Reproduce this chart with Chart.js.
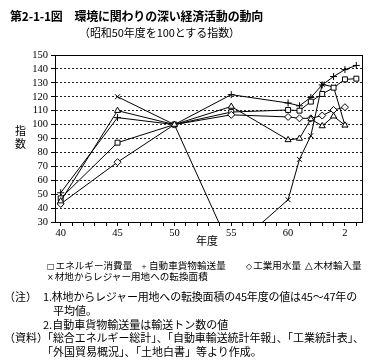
<!DOCTYPE html>
<html>
<head>
<meta charset="utf-8">
<script src="https://cdn.jsdelivr.net/npm/chart.js@4.4.1/dist/chart.umd.min.js"></script>
<style>
  body { margin: 0; width: 370px; height: 362px; position: relative; background: #fff; color: #000;
         font-family: "Noto Sans CJK JP", sans-serif; overflow: hidden; }
  #chart { position: absolute; left: 0; top: 0; }
  .t { position: absolute; white-space: nowrap; line-height: 1; }
  .lg { font-size: 9.6px; top: 261px; }
  .sym { font-size: 8px; font-family: "DejaVu Sans", sans-serif; margin-right: 1px; }
</style>
</head>
<body>
<canvas id="chart" width="370" height="250"></canvas>

<div class="t" style="left:10px;top:10px;font-size:12px;font-weight:bold" data-w="253">第2-1-1図　環境に関わりの深い経済活動の動向</div>
<div class="t" style="left:79px;top:27px;font-size:11px" data-w="161">（昭和50年度を100とする指数）</div>

<div class="t" style="left:15px;top:124px;font-size:11px;line-height:13px">指<br>数</div>
<div class="t" style="left:196px;top:235px;font-size:11px">年度</div>

<div class="t lg" style="left:47px"><span class="sym">□</span>エネルギー消費量</div>
<div class="t lg" style="left:140px"><span class="sym">＋</span>自動車貨物輸送量</div>
<div class="t lg" style="left:246px"><span class="sym">◇</span>工業用水量</div>
<div class="t lg" style="left:305px"><span class="sym" style="font-size:10px">△</span>木材輸入量</div>
<div class="t lg" style="left:47px;top:272px"><span class="sym">×</span>材地からレジャー用地への転換面積</div>

<div class="t" style="left:4px;top:291px;font-size:11px">（注）</div>
<div class="t" style="left:43px;top:291px;font-size:11px" data-w="314">1.林地からレジャー用地への転換面積の45年度の値は45～47年の</div>
<div class="t" style="left:53px;top:305px;font-size:11px">平均値。</div>
<div class="t" style="left:43px;top:319px;font-size:11px">2.自動車貨物輸送量は輸送トン数の値</div>
<div class="t" style="left:4px;top:332px;font-size:11px">（資料）</div>
<div class="t" style="left:42px;top:332px;font-size:11px" data-w="322">「総合エネルギー総計」、「自動車輸送統計年報」、「工業統計表」、</div>
<div class="t" style="left:42px;top:346px;font-size:11px">「外国貿易概況」、「土地白書」等より作成。</div>

<script>
// fiscal years (Showa; 64 = Heisei 1, 65 = Heisei 2)
const years = [40, 45, 50, 55, 60, 61, 62, 63, 64, 65, 66];

// index values, Showa 50 = 100
const energyUse       = [47, 87, 100, 109, 110.5, 110, 116.5, 122, 126.5, 132.5, 133];
const truckFreight    = [51, 105, 100, 121.5, 115.5, 113.5, 119.5, 128.5, 134.5, 139.5, 142.5];
const industrialWater = [43, 73, 100, 107, 105.5, 104.5, 104.5, 106.5, 110.5, 112.5, null];
const timberImports   = [45, 110, 100, 113, 89, 90, 104, 99, 106, 99.5, null];
const leisureLand     = [null, 120, 100, 10, 46, 75, 92, 129, 127, 99.5, null];

const tickYears = [40, 41, 42, 43, 44, 45, 46, 47, 48, 49, 50, 51, 52, 53, 54, 55, 56, 57, 58, 59, 60, 61, 62, 63, 64, 65, 66];
const xTickLabels = { 40: "40", 45: "45", 50: "50", 55: "55", 60: "60", 65: "2" };

// stretch a few text lines to the width they have in the picture
document.querySelectorAll("[data-w]").forEach(el => {
    const diff = +el.dataset.w - el.getBoundingClientRect().width;
    el.style.letterSpacing = (diff / el.textContent.length) + "px";
});

function series(values, pointStyle) {
    return {
        data: years.map((x, i) => ({ x: x, y: values[i] })),
        pointStyle: pointStyle,
        borderColor: "#000",
        borderWidth: 1,
        pointRadius: 3.5,
        pointBorderWidth: 1,
        pointBorderColor: "#000",
        pointBackgroundColor: "#fff",
        tension: 0,
        fill: false
    };
}

const frame = {
    id: "frame",
    afterDatasetsDraw(chart) {
        const { ctx, chartArea: a } = chart;
        ctx.save();
        ctx.strokeStyle = "#000";
        ctx.lineWidth = 1;
        ctx.strokeRect(a.left + 0.5, a.top + 0.5, a.right - a.left, a.bottom - a.top);
        ctx.restore();
    }
};

const tickFont = { family: "'Liberation Serif', serif", size: 10.5 };

new Chart(document.getElementById("chart"), {
    type: "line",
    data: {
        datasets: [
            series(timberImports, "triangle"),
            series(industrialWater, "rectRot"),
            series(energyUse, "rect"),
            series(leisureLand, "crossRot"),
            series(truckFreight, "cross")
        ]
    },
    options: {
        responsive: false,
        animation: false,
        devicePixelRatio: 1,
        layout: { padding: { left: 0, top: 55, right: 8, bottom: 0 } },
        plugins: { legend: { display: false }, tooltip: { enabled: false } },
        scales: {
            x: {
                type: "linear",
                min: 39.5,
                max: 66.5,
                afterBuildTicks: s => { s.ticks = tickYears.map(v => ({ value: v })); },
                afterFit: s => { s.height = 28; },
                grid: { drawOnChartArea: false, drawTicks: true, tickLength: 4, color: "#000" },
                border: { color: "#000", width: 1 },
                ticks: {
                    autoSkip: false, maxRotation: 0, padding: 1, color: "#000", font: tickFont,
                    callback: v => xTickLabels[v] || ""
                }
            },
            y: {
                min: 30,
                max: 150,
                afterFit: s => { s.width = 55; },
                grid: { color: "#222", lineWidth: 1, tickLength: 4, tickColor: "#000", tickBorderDash: [] },
                border: { color: "#000", width: 1, dash: [2, 2] },
                ticks: { stepSize: 10, autoSkip: false, padding: 3, color: "#000", font: tickFont }
            }
        }
    },
    plugins: [frame]
});
</script>
</body>
</html>
